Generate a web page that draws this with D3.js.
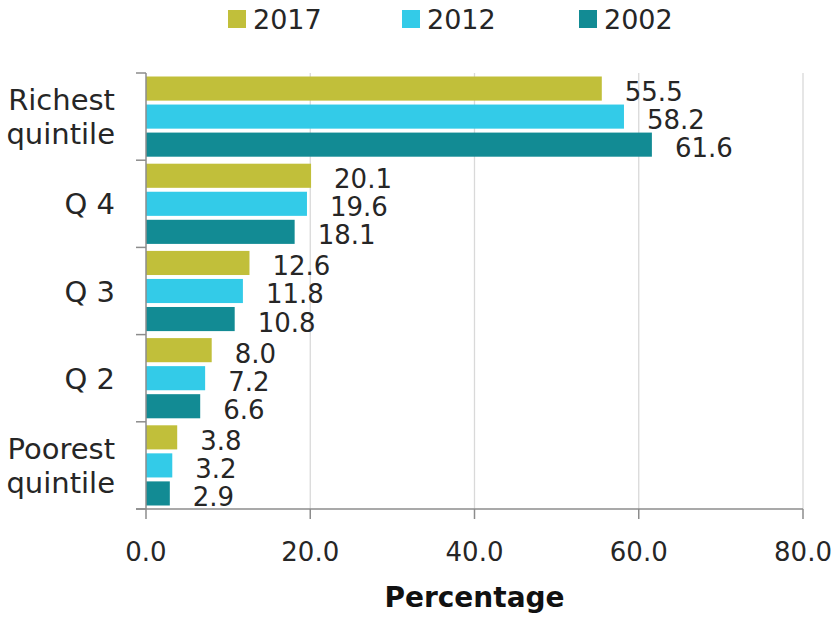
<!DOCTYPE html>
<html><head><meta charset="utf-8">
<script src="https://cdn.jsdelivr.net/npm/d3@7"></script>
<style>body{margin:0;background:#fff}svg{display:block}text{font-family:"DejaVu Sans",sans-serif;fill:#262626}</style>
</head><body>
<svg id="c" width="834" height="620"></svg>
<script>
const categories = [["Richest","quintile"],["Q 4"],["Q 3"],["Q 2"],["Poorest","quintile"]];
const seriesNames = ["2017","2012","2002"];
const values2017 = [55.5, 20.1, 12.6, 8.0, 3.8];
const values2012 = [58.2, 19.6, 11.8, 7.2, 3.2];
const values2002 = [61.6, 18.1, 10.8, 6.6, 2.9];
const xTicks = [0, 20, 40, 60, 80];
const colors = ["#c1bf3a", "#33cbe8", "#128b94"];

(function() {
const seriesValues = [values2017, values2012, values2002];
const svg = d3.select("#c");
const pLeft = 146, pRight = 803, pTop = 73, pBottom = 509;

const x = d3.scaleLinear().domain([0, 80]).range([pLeft, pRight]);
const y = d3.scaleBand().domain(d3.range(categories.length)).range([pTop, pBottom]).padding(0);
const yi = d3.scaleBand().domain(d3.range(seriesNames.length)).range([3.5, y.bandwidth() - 3.5]).paddingInner(0.14);

// gridlines
svg.append("g").selectAll("line").data(xTicks.filter(d => d > 0)).join("line")
  .attr("x1", d => x(d)).attr("x2", d => x(d)).attr("y1", pTop).attr("y2", pBottom)
  .attr("stroke", "#d9d9d9").attr("stroke-width", 1.3);

// bars
const groups = svg.append("g").selectAll("g").data(categories).join("g")
  .attr("transform", (d, i) => `translate(0,${y(i)})`);
groups.each(function(c, ci) {
  const g = d3.select(this);
  seriesValues.forEach((vals, si) => {
    g.append("rect").attr("x", x(0)).attr("y", yi(si))
      .attr("width", x(vals[ci]) - x(0)).attr("height", yi.bandwidth())
      .attr("fill", colors[si]);
    g.append("text").attr("x", x(vals[ci]) + 23).attr("y", yi(si) + yi.bandwidth() / 2)
      .attr("dy", "0.48em").attr("font-size", 26).text(d3.format(".1f")(vals[ci]));
  });
});

// axes
const ax = svg.append("g").attr("stroke", "#8c8c8c").attr("stroke-width", 1.5);
ax.append("line").attr("x1", pLeft).attr("x2", pLeft).attr("y1", pTop).attr("y2", pBottom);
ax.append("line").attr("x1", pLeft - 10).attr("x2", pRight).attr("y1", pBottom).attr("y2", pBottom);
ax.selectAll(".yt").data(d3.range(categories.length + 1)).join("line")
  .attr("x1", pLeft - 10).attr("x2", pLeft)
  .attr("y1", i => pTop + i * y.step()).attr("y2", i => pTop + i * y.step());
ax.selectAll(".xt").data(xTicks).join("line")
  .attr("x1", d => x(d)).attr("x2", d => x(d)).attr("y1", pBottom).attr("y2", pBottom + 10);

svg.append("g").selectAll("text").data(xTicks).join("text")
  .attr("x", d => x(d)).attr("y", 561).attr("text-anchor", "middle").attr("font-size", 26)
  .text(d => d3.format(".1f")(d));

// category labels
categories.forEach((lines, i) => {
  const cy = y(i) + y.bandwidth() / 2;
  lines.forEach((ln, j) => {
    svg.append("text").attr("x", 115).attr("text-anchor", "end").attr("font-size", 29)
      .attr("y", cy + (j - (lines.length - 1) / 2) * 34 + 10.5).text(ln);
  });
});

// x title
svg.append("text").attr("x", (pLeft + pRight) / 2).attr("y", 607).attr("text-anchor", "middle")
  .attr("font-size", 28).attr("font-weight", "bold").style("fill", "#111").text("Percentage");

// legend
const legendX = [228, 402, 579];
seriesNames.forEach((n, i) => {
  svg.append("rect").attr("x", legendX[i]).attr("y", 10).attr("width", 18).attr("height", 18).attr("fill", colors[i]);
  svg.append("text").attr("x", legendX[i] + 25).attr("y", 29).attr("font-size", 27).text(n);
});
})();
</script>
</body></html>
